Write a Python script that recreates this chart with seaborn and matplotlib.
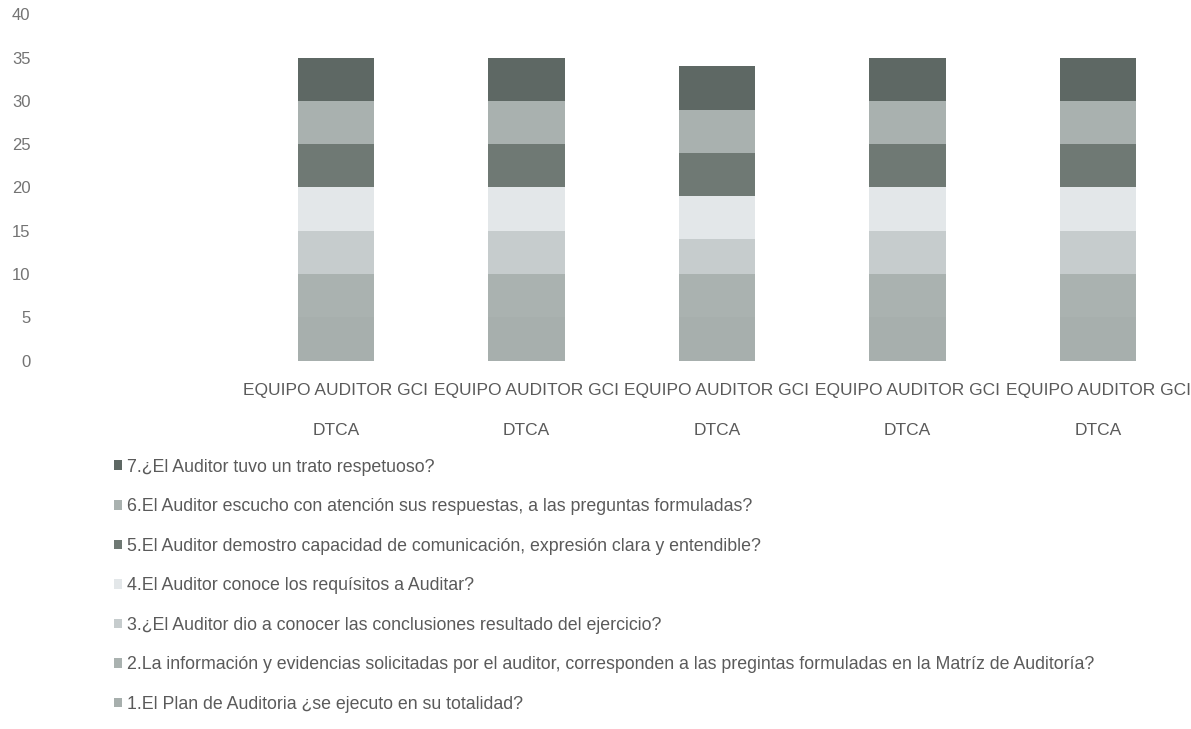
import numpy as np
import pandas as pd
import matplotlib
matplotlib.use("Agg")
import matplotlib.pyplot as plt
import seaborn as sns
from matplotlib.patches import Patch

# categories (all five bars carry the same label in the source)
bar_labels = ["EQUIPO AUDITOR GCI\nDTCA"] * 5

series_names = [
    "1.El Plan de Auditoria ¿se ejecuto en su totalidad?",
    "2.La información y evidencias solicitadas por el auditor, corresponden a las pregintas formuladas en la Matríz de Auditoría?",
    "3.¿El Auditor dio a conocer las conclusiones resultado del ejercicio?",
    "4.El Auditor conoce los requísitos a Auditar?",
    "5.El Auditor demostro capacidad de comunicación, expresión clara y entendible?",
    "6.El Auditor escucho con atención sus respuestas, a las preguntas formuladas?",
    "7.¿El Auditor tuvo un trato respetuoso?",
]

q1 = [5, 5, 5, 5, 5]
q2 = [5, 5, 5, 5, 5]
q3 = [5, 5, 4, 5, 5]
q4 = [5, 5, 5, 5, 5]
q5 = [5, 5, 5, 5, 5]
q6 = [5, 5, 5, 5, 5]
q7 = [5, 5, 5, 5, 5]

colors = ["#a7afad", "#aab2b0", "#c6cccd", "#e3e7e9", "#6f7974", "#a9b1af", "#5e6864"]

sns.set_theme(style="white")
plt.rcParams['font.family'] = ['Liberation Sans', 'DejaVu Sans']

values = np.array([q1, q2, q3, q4, q5, q6, q7])
tops = values.cumsum(axis=0)

fig = plt.figure(figsize=(11.91, 7.29), dpi=100)
ax = fig.add_axes([0.042, 0.5052, 0.96, 0.4752])

# draw cumulative totals from the top series down so lower parts overlay
for i in range(len(series_names) - 1, -1, -1):
    df = pd.DataFrame({"pos": np.arange(len(bar_labels)), "top": tops[i]})
    sns.barplot(data=df, x="pos", y="top", color=colors[i], saturation=1,
                width=0.4, linewidth=0, ax=ax, errorbar=None)

ax.set_xlim(-1.5, 4.5)
ax.set_ylim(0, 40)
ax.set_yticks(range(0, 41, 5))
ax.set_xticks(range(len(bar_labels)))
ax.set_xticklabels(bar_labels, linespacing=3.1)
ax.set_xlabel("")
ax.set_ylabel("")
for s in ax.spines.values():
    s.set_visible(False)
ax.tick_params(axis="y", colors="#737373", labelsize=12, pad=14, length=0)
ax.tick_params(axis="x", colors="#5a5a5a", labelsize=12.5, pad=16, length=0)

handles = [Patch(facecolor=colors[i], edgecolor="none", label=series_names[i])
           for i in range(len(series_names) - 1, -1, -1)]
leg = fig.legend(handles=handles, loc="upper left", bbox_to_anchor=(0.096, 0.371),
                 frameon=False, fontsize=12.8, labelspacing=1.27,
                 borderpad=0, borderaxespad=0,
                 handlelength=0.45, handleheight=0.45, handletextpad=0.25)
for t in leg.get_texts():
    t.set_color("#5a5a5a")

fig.savefig("out.png", dpi=100)
